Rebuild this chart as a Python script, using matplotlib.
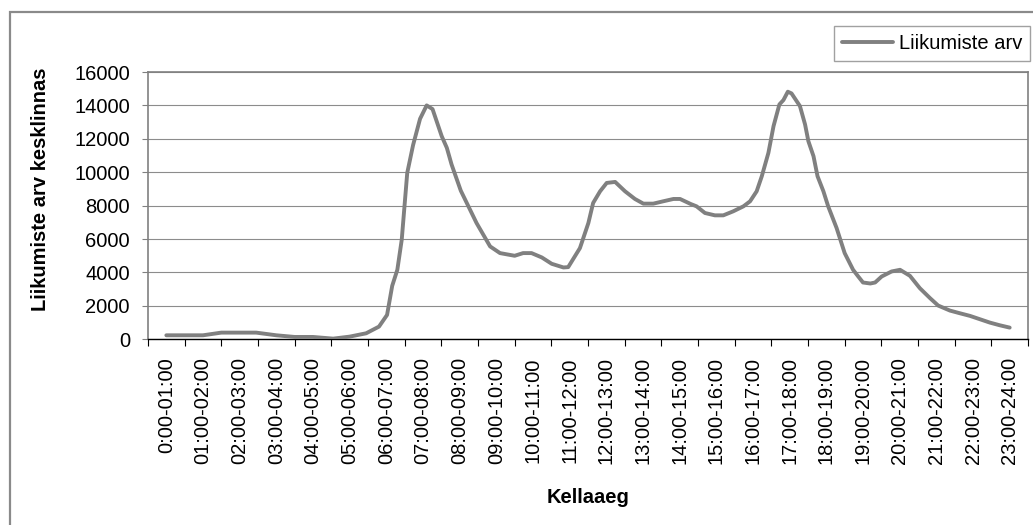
import matplotlib

matplotlib.use("Agg")
import matplotlib.pyplot as plt
from matplotlib.patches import Rectangle

plt.rcParams["font.family"] = ["Liberation Sans", "DejaVu Sans"]

# Hourly category labels on the x axis
HOUR_LABELS = [
    "0:00-01:00", "01:00-02:00", "02:00-03:00", "03:00-04:00",
    "04:00-05:00", "05:00-06:00", "06:00-07:00", "07:00-08:00",
    "08:00-09:00", "09:00-10:00", "10:00-11:00", "11:00-12:00",
    "12:00-13:00", "13:00-14:00", "14:00-15:00", "15:00-16:00",
    "16:00-17:00", "17:00-18:00", "18:00-19:00", "19:00-20:00",
    "20:00-21:00", "21:00-22:00", "22:00-23:00", "23:00-24:00",
]

# Time of day (hours from midnight) of each measurement and the trip count
HOURS = [
    0.5, 1.5, 2.0, 2.95, 3.5, 4.0, 4.5, 5.05, 5.5, 5.95,
    6.3, 6.52, 6.66, 6.8, 6.92, 7.07, 7.23, 7.42, 7.6, 7.76,
    8.01, 8.15, 8.28, 8.53, 8.96, 9.33, 9.6, 10.0, 10.23, 10.46,
    10.74, 11.01, 11.33, 11.46, 11.78, 12.01, 12.14, 12.33, 12.51, 12.74,
    13.01, 13.28, 13.51, 13.78, 14.05, 14.33, 14.51, 14.8, 14.96, 15.19,
    15.46, 15.69, 15.96, 16.24, 16.42, 16.6, 16.74, 16.92, 17.06, 17.22,
    17.33, 17.45, 17.55, 17.78, 17.92, 18.01, 18.15, 18.26, 18.42, 18.55,
    18.78, 19.0, 19.23, 19.37, 19.5, 19.7, 19.83, 20.01, 20.28, 20.51,
    20.78, 21.05, 21.33, 21.55, 21.87, 22.14, 22.42, 22.69, 22.96, 23.23,
    23.5,
]
TRIPS = [
    240, 240, 400, 400, 240, 140, 140, 40, 160, 360,
    760, 1460, 3200, 4160, 5960, 9960, 11630, 13200, 14000, 13780,
    12160, 11460, 10460, 8900, 6960, 5560, 5160, 5000, 5160, 5160,
    4900, 4520, 4300, 4320, 5460, 6960, 8160, 8860, 9360, 9420,
    8860, 8400, 8120, 8120, 8260, 8400, 8400, 8100, 7960, 7560,
    7420, 7420, 7660, 7960, 8260, 8860, 9760, 11160, 12760, 14060,
    14320, 14820, 14720, 13960, 12860, 11860, 10960, 9760, 8860, 7960,
    6660, 5160, 4160, 3760, 3400, 3340, 3400, 3760, 4060, 4160,
    3800, 3060, 2460, 2020, 1720, 1560, 1400, 1200, 1000, 840,
    700,
]
Y_TICKS = [0, 2000, 4000, 6000, 8000, 10000, 12000, 14000, 16000]

GRAY = "#808080"

fig = plt.figure(figsize=(10.33, 5.25), dpi=100)

# outer chart frame
fig.patches.append(
    Rectangle((10 / 1033, -0.2), 1.2, 0.2 + 1 - 12 / 525, transform=fig.transFigure,
              fill=False, edgecolor="#8a8a8a", linewidth=1.6, zorder=0)
)

ax = fig.add_axes([148 / 1033, 185.7 / 525, 880 / 1033, 267.3 / 525])

ax.plot(HOURS, TRIPS, color=GRAY, linewidth=2.8, solid_capstyle="round",
        solid_joinstyle="round", label="Liikumiste arv", zorder=3)

ax.set_xlim(0, 24)
ax.set_ylim(0, 16000)

ax.set_yticks(Y_TICKS)
ax.set_yticklabels([str(v) for v in Y_TICKS])
ax.tick_params(axis="y", length=4, width=0.8, color=GRAY, pad=9, labelsize=14.5)
ax.grid(axis="y", color="#8c8c8c", linewidth=0.8, zorder=1)
ax.set_axisbelow(True)

# tick marks on category boundaries, labels in the middle of each hour
ax.set_xticks(range(25))
ax.set_xticklabels([])
ax.set_xticks([i + 0.5 for i in range(24)], minor=True)
ax.set_xticklabels(HOUR_LABELS, minor=True, rotation=90, fontsize=14.5)
ax.tick_params(axis="x", which="major", length=5, width=0.8, color="black")
ax.tick_params(axis="x", which="minor", length=0, pad=13)

for side in ("left", "top", "right"):
    ax.spines[side].set_color(GRAY)
    ax.spines[side].set_linewidth(1.2)
ax.spines["bottom"].set_color("black")
ax.spines["bottom"].set_linewidth(1.0)

ax.set_xlabel("Kellaaeg", fontsize=14.5, fontweight="bold")
ax.xaxis.set_label_coords(0.5, -0.59)
ax.xaxis.label.set_verticalalignment("center")
ax.set_ylabel("Liikumiste arv kesklinnas", fontsize=14.5, fontweight="bold")
ax.yaxis.set_label_coords(-0.122, (525 - 189 - 185.7) / 267.3)
ax.yaxis.label.set_verticalalignment("center")

leg = fig.legend(loc="upper right", bbox_to_anchor=(1030 / 1033, 1 - 26 / 525),
                 fontsize=14.5, frameon=True, fancybox=False, handlelength=2.5,
                 handletextpad=0.3, borderpad=0.4, borderaxespad=0)
leg.get_frame().set_edgecolor("#8a8a8a")
leg.get_frame().set_linewidth(1.0)

fig.savefig("out.png", dpi=100)
